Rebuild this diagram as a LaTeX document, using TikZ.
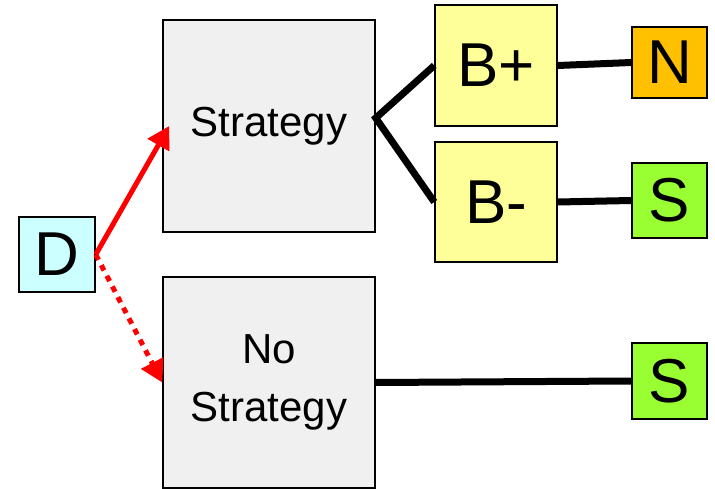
\documentclass[tikz,border=0pt]{standalone}
\usepackage{fontspec}
\setmainfont{Liberation Sans}
\usetikzlibrary{arrows.meta}
\definecolor{dcyan}{HTML}{CCFFFF}
\definecolor{sgrey}{HTML}{F0F0F0}
\definecolor{byellow}{HTML}{FFFF99}
\definecolor{norange}{HTML}{FFC000}
\definecolor{sgreen}{HTML}{99FF33}
\begin{document}
\begin{tikzpicture}[x=1pt, y=-1pt,
    box/.style={draw=black, line width=1.5pt, inner sep=0pt, align=center},
    big/.style={font=\fontsize{62}{62}\selectfont},
    mid/.style={font=\fontsize{42}{58}\selectfont},
    link/.style={line width=7pt},
    choice/.style={draw=red, line width=5pt, -{Triangle[length=22pt, width=24pt]}}]
        \useasboundingbox (0,0) rectangle (715,489);
        % nodes
        \node[box, big, fill=dcyan, minimum width=76pt, minimum height=75pt] (d) at (57, 254.5) {D};
            \node[box, mid, fill=sgrey, minimum width=212pt, minimum height=212pt] (st) at (269, 126) {Strategy};
                \node[box, big, fill=byellow, minimum width=122pt, minimum height=121pt] (bp) at (496, 65.5) {B+};
                    \node[box, big, fill=norange, minimum width=75pt, minimum height=71pt] (n) at (669.5, 62.5) {N};
                \node[box, big, fill=byellow, minimum width=122pt, minimum height=120pt] (bm) at (496, 202) {B-};
                    \node[box, big, fill=sgreen, minimum width=75pt, minimum height=75pt] (s1) at (669.5, 200.5) {S};
            \node[box, mid, fill=sgrey, minimum width=212pt, minimum height=211pt] (nost) at (269, 382.5) {No\\Strategy};
                \node[box, big, fill=sgreen, minimum width=75pt, minimum height=76pt] (s2) at (669.5, 381) {S};
        % links
        \draw[link] (bp.west) -- ([yshift=8pt]st.east) -- (bm.west);
        \draw[link] (bp.east) -- (n.west);
        \draw[link] (bm.east) -- (s1.west);
        \draw[link] (nost.east) -- (s2.west);
        % arrows
        \draw[choice] (d.east) -- ([xshift=7pt]st.west);
        \draw[choice, dash pattern=on 6pt off 6pt] (d.east) -- (nost.west);
\end{tikzpicture}
\end{document}
